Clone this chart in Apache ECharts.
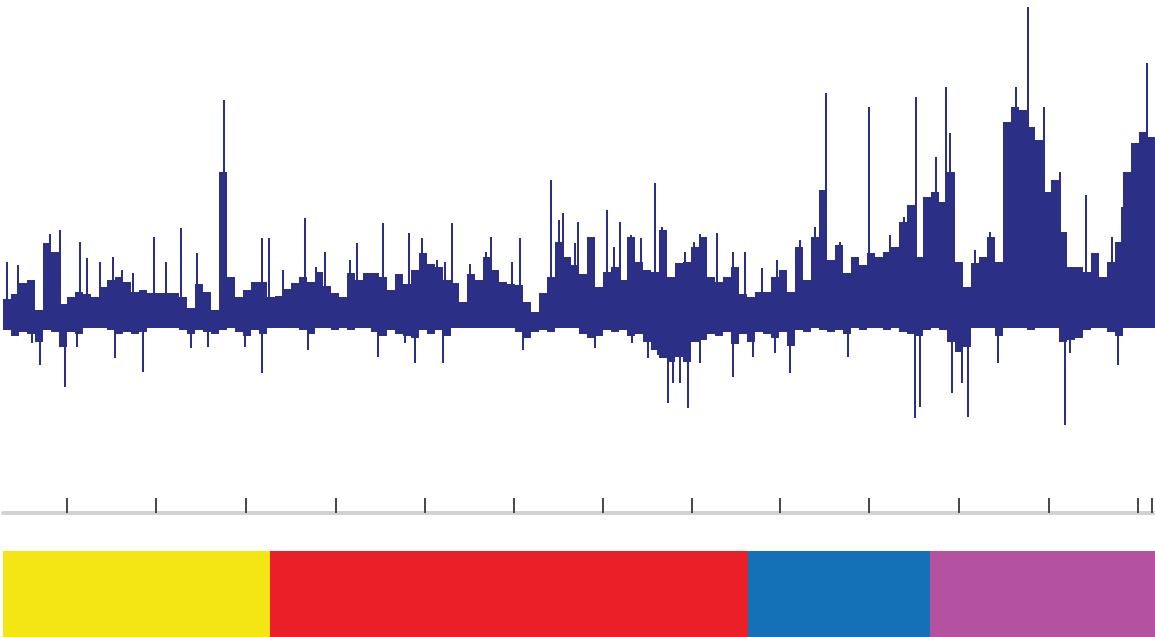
<!DOCTYPE html>
<html>
<head>
<meta charset="utf-8">
<script src="https://cdn.jsdelivr.net/npm/echarts@6/dist/echarts.min.js"></script>
<style>
  html, body { margin: 0; padding: 0; background: #fff; }
  #chart { width: 1155px; height: 637px; }
</style>
</head>
<body>
<div id="chart"></div>
<script>
// signal body, one value per 8-unit bin starting at position 3
const binStart = 3
const binSize = 8
const posBody = [
  23, 28, 39, 42, 12, 79, 70, 18, 25, 30,
  28, 25, 35, 42, 45, 40, 30, 32, 29, 29,
  29, 29, 25, 14, 38, 30, 12, 150, 45, 25,
  32, 40, 40, 25, 26, 33, 39, 45, 40, 50,
  36, 29, 25, 49, 42, 49, 49, 45, 32, 48,
  38, 52, 69, 58, 55, 42, 39, 20, 48, 42,
  65, 52, 40, 38, 37, 20, 10, 29, 45, 80,
  65, 57, 48, 85, 35, 50, 55, 42, 85, 60,
  52, 50, 92, 45, 59, 60, 75, 85, 45, 40,
  45, 55, 28, 25, 30, 30, 45, 52, 30, 75,
  42, 85, 132, 62, 77, 49, 65, 57, 69, 65,
  70, 75, 100, 117, 65, 125, 130, 120, 150, 60,
  35, 59, 65, 85, 60, 200, 215, 212, 195, 182,
  130, 142, 90, 55, 55, 50, 69, 45, 60, 80,
  150, 179, 190, 185
]
const negBody = [
  -8, -14, -10, -12, -20, -8, -10, -25, -10, -12,
  -6, -6, -6, -8, -12, -10, -12, -10, -6, -6,
  -6, -6, -8, -12, -8, -10, -12, -8, -6, -10,
  -14, -8, -12, -6, -6, -6, -6, -8, -12, -6,
  -6, -8, -6, -8, -6, -6, -10, -14, -8, -12,
  -14, -16, -8, -12, -8, -14, -6, -6, -6, -6,
  -6, -6, -6, -6, -10, -16, -10, -8, -10, -6,
  -6, -6, -12, -16, -14, -8, -10, -8, -14, -12,
  -20, -28, -36, -40, -35, -40, -20, -18, -12, -14,
  -10, -22, -12, -20, -10, -12, -16, -10, -24, -8,
  -10, -6, -8, -10, -8, -12, -6, -8, -6, -6,
  -8, -6, -10, -12, -14, -8, -6, -8, -20, -30,
  -25, -6, -6, -6, -14, -6, -6, -6, -8, -6,
  -6, -6, -20, -18, -16, -8, -6, -6, -10, -14,
  -6, -6, -6, -6
]

// narrow spikes: [position, value]
const posSpikes = [
  [7, 60], [18, 57], [50, 88], [60, 92], [80, 80], [87, 64], [100, 60], [113, 65],
  [122, 52], [133, 49], [154, 85], [166, 60], [181, 94], [197, 69], [224, 222],
  [234, 45], [262, 84], [269, 84], [283, 52], [305, 104], [316, 55], [325, 70],
  [350, 62], [357, 79], [383, 99], [409, 89], [422, 84], [437, 62], [445, 60],
  [452, 99], [470, 58], [486, 70], [491, 85], [512, 60], [520, 84], [551, 142],
  [559, 102], [563, 109], [575, 79], [578, 100], [607, 112], [614, 75], [620, 100],
  [631, 87], [641, 84], [655, 139], [662, 95], [685, 70], [694, 80], [700, 88],
  [717, 89], [733, 70], [745, 70], [762, 54], [777, 62], [800, 82], [815, 95],
  [820, 125], [826, 229], [840, 80], [869, 215], [890, 87], [904, 105], [916, 225],
  [936, 165], [946, 235], [950, 189], [975, 72], [990, 90], [1005, 190], [1016, 235],
  [1028, 315], [1040, 182], [1044, 215], [1060, 150], [1086, 127], [1112, 85],
  [1122, 115], [1140, 181], [1147, 259]
]
const negSpikes = [
  [32, -21], [40, -43], [65, -65], [77, -25], [115, -36], [143, -50], [191, -26],
  [208, -25], [245, -25], [262, -51], [308, -28], [378, -35], [405, -21], [415, -41],
  [443, -41], [523, -28], [595, -26], [632, -21], [648, -36], [658, -33], [668, -81],
  [673, -61], [680, -61], [688, -86], [700, -41], [733, -55], [753, -35], [775, -31],
  [790, -51], [848, -35], [915, -96], [920, -85], [952, -71], [962, -61], [968, -95],
  [998, -41], [1065, -103], [1070, -31], [1118, -43]
]

// ruler ticks
const tickPositions = [67, 156, 246, 336, 425, 514, 603, 692, 780, 869, 959, 1049, 1138, 1152]

// coloured segments along the bottom
const segmentLengths = [267, 478, 182, 225]
const segmentColors = ['#f4e614', '#ea1f27', '#1470b7', '#b5529f']

const navy = '#2c2f86'
const xMin = 3, xMax = 1155

const chart = echarts.init(document.getElementById('chart'))

const binned = arr => arr.map((v, i) => [binStart + binSize * i + binSize / 2, v])

const option = {
  animation: false,
  backgroundColor: '#fff',
  grid: [
    { left: 3, width: 1152, top: 7, height: 495 },
    { left: 3, width: 1152, top: 500, height: 13 },
    { left: 3, width: 1152, top: 551, height: 86 }
  ],
  xAxis: [
    { type: 'value', gridIndex: 0, min: xMin, max: xMax, show: false },
    { type: 'value', gridIndex: 0, min: xMin, max: xMax, show: false },
    {
      type: 'value', gridIndex: 1, min: xMin, max: xMax, position: 'bottom',
      splitLine: { show: false },
      axisLine: { show: true, lineStyle: { color: '#d2d2d2', width: 4 } },
      axisTick: {
        show: true, inside: true, length: 15,
        customValues: tickPositions,
        lineStyle: { color: '#4a4a4a', width: 2 }
      },
      axisLabel: { show: false }
    },
    { type: 'value', gridIndex: 2, min: 0, max: 1152, show: false }
  ],
  yAxis: [
    { type: 'value', gridIndex: 0, min: -180, max: 315, show: false },
    { type: 'value', gridIndex: 1, min: 0, max: 1, show: false },
    { type: 'category', gridIndex: 2, data: ['segments'], show: false }
  ],
  series: [
    {
      type: 'bar', xAxisIndex: 0, yAxisIndex: 0, stack: 'body', barWidth: binSize,
      data: binned(posBody), itemStyle: { color: navy }
    },
    {
      type: 'bar', xAxisIndex: 0, yAxisIndex: 0, stack: 'body', barWidth: binSize,
      data: binned(negBody), itemStyle: { color: navy }
    },
    {
      type: 'bar', xAxisIndex: 1, yAxisIndex: 0, barWidth: 2,
      data: posSpikes.concat(negSpikes), itemStyle: { color: navy }
    }
  ].concat(segmentLengths.map((len, i) => ({
    type: 'bar', xAxisIndex: 3, yAxisIndex: 2, stack: 'seg', barWidth: '100%',
    data: [len], itemStyle: { color: segmentColors[i] }
  })))
}

chart.setOption(option)
</script>
</body>
</html>
